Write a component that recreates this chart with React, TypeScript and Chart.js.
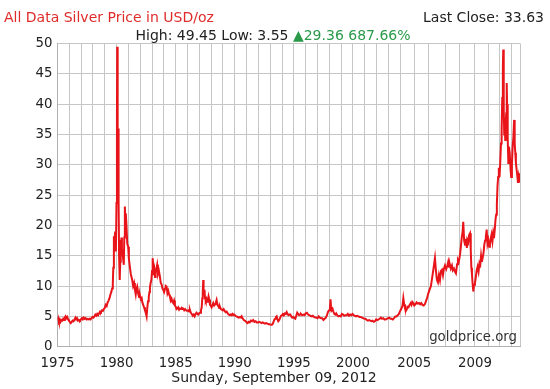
import React, { useEffect, useRef } from "react";
import { Chart, registerables } from "chart.js";

Chart.register(...registerables);

// ---- data (decimal year, USD/oz) ----
const YEARS = [
  1975.00, 1975.06, 1975.12, 1975.19, 1975.26, 1975.33, 1975.41, 1975.48, 1975.55, 1975.62, 1975.68, 1975.75, 1975.82, 1975.90, 1975.97,
  1976.04, 1976.12, 1976.20, 1976.28, 1976.36, 1976.44, 1976.52, 1976.58, 1976.66, 1976.74, 1976.82, 1976.90, 1976.98,
  1977.06, 1977.14, 1977.22, 1977.30, 1977.38, 1977.46, 1977.55, 1977.64, 1977.72, 1977.80, 1977.88, 1977.96,
  1978.04, 1978.12, 1978.20, 1978.28, 1978.36, 1978.44, 1978.52, 1978.60, 1978.68, 1978.76, 1978.84, 1978.92,
  1979.00, 1979.08, 1979.16, 1979.24, 1979.32, 1979.40, 1979.48, 1979.55, 1979.62, 1979.68, 1979.72, 1979.77, 1979.82, 1979.88, 1979.94, 1979.99,
  1980.03, 1980.05, 1980.07, 1980.09, 1980.11, 1980.14, 1980.17, 1980.21, 1980.25, 1980.28, 1980.31, 1980.33, 1980.37, 1980.41, 1980.45,
  1980.50, 1980.55, 1980.61, 1980.65, 1980.70, 1980.74, 1980.78, 1980.84, 1980.90, 1980.98,
  1981.04, 1981.12, 1981.20, 1981.26, 1981.32, 1981.40, 1981.48, 1981.55, 1981.62, 1981.68, 1981.74, 1981.82, 1981.90, 1981.97,
  1982.05, 1982.12, 1982.18, 1982.25, 1982.32, 1982.40, 1982.47, 1982.54, 1982.60, 1982.66, 1982.72, 1982.78, 1982.82, 1982.88, 1982.94,
  1983.00, 1983.05, 1983.09, 1983.14, 1983.20, 1983.25, 1983.30, 1983.36, 1983.43, 1983.50, 1983.58, 1983.66, 1983.74, 1983.82, 1983.88, 1983.94,
  1984.02, 1984.10, 1984.16, 1984.23, 1984.30, 1984.37, 1984.44, 1984.51, 1984.58, 1984.65, 1984.72, 1984.79, 1984.86, 1984.93,
  1985.00, 1985.07, 1985.13, 1985.21, 1985.29, 1985.37, 1985.45, 1985.53, 1985.63, 1985.72, 1985.80, 1985.88, 1985.96,
  1986.05, 1986.13, 1986.20, 1986.28, 1986.36, 1986.44, 1986.52, 1986.60, 1986.68, 1986.76, 1986.84, 1986.91, 1986.98,
  1987.06, 1987.14, 1987.20, 1987.25, 1987.29, 1987.33, 1987.36, 1987.40, 1987.44, 1987.48, 1987.54, 1987.60, 1987.66, 1987.72, 1987.78, 1987.84, 1987.90, 1987.96,
  1988.04, 1988.10, 1988.18, 1988.26, 1988.34, 1988.40, 1988.46, 1988.52, 1988.60, 1988.68, 1988.74, 1988.82, 1988.90, 1988.98,
  1989.06, 1989.14, 1989.22, 1989.31, 1989.40, 1989.48, 1989.56, 1989.64, 1989.72, 1989.80, 1989.87, 1989.95,
  1990.04, 1990.14, 1990.24, 1990.34, 1990.44, 1990.52, 1990.58, 1990.66, 1990.76, 1990.84, 1990.92,
  1991.00, 1991.08, 1991.16, 1991.26, 1991.36, 1991.46, 1991.56, 1991.66, 1991.76, 1991.86, 1991.96,
  1992.06, 1992.16, 1992.26, 1992.36, 1992.46, 1992.56, 1992.66, 1992.76, 1992.86, 1992.96,
  1993.06, 1993.14, 1993.22, 1993.30, 1993.36, 1993.42, 1993.48, 1993.54, 1993.60, 1993.68, 1993.76, 1993.84, 1993.92,
  1994.00, 1994.08, 1994.16, 1994.24, 1994.32, 1994.39, 1994.46, 1994.54, 1994.62, 1994.70, 1994.78, 1994.86, 1994.95,
  1995.04, 1995.12, 1995.20, 1995.28, 1995.36, 1995.44, 1995.52, 1995.60, 1995.70, 1995.80, 1995.90,
  1996.00, 1996.10, 1996.20, 1996.30, 1996.40, 1996.50, 1996.60, 1996.70, 1996.80, 1996.90,
  1997.00, 1997.10, 1997.20, 1997.30, 1997.40, 1997.50, 1997.60, 1997.70, 1997.80, 1997.90, 1997.98,
  1998.05, 1998.10, 1998.14, 1998.20, 1998.28, 1998.34, 1998.42, 1998.50, 1998.58, 1998.66, 1998.76, 1998.86, 1998.96,
  1999.06, 1999.16, 1999.26, 1999.36, 1999.46, 1999.56, 1999.66, 1999.76, 1999.86, 1999.96,
  2000.06, 2000.16, 2000.26, 2000.36, 2000.46, 2000.56, 2000.66, 2000.76, 2000.86, 2000.96,
  2001.06, 2001.16, 2001.26, 2001.36, 2001.46, 2001.56, 2001.66, 2001.76, 2001.86, 2001.96,
  2002.06, 2002.16, 2002.26, 2002.36, 2002.46, 2002.57, 2002.66, 2002.76, 2002.86, 2002.96,
  2003.06, 2003.16, 2003.26, 2003.36, 2003.46, 2003.56, 2003.66, 2003.76, 2003.86, 2003.96,
  2004.06, 2004.14, 2004.20, 2004.26, 2004.32, 2004.38, 2004.44, 2004.50, 2004.58, 2004.66, 2004.74, 2004.80, 2004.86, 2004.93,
  2005.00, 2005.08, 2005.16, 2005.24, 2005.32, 2005.40, 2005.48, 2005.56, 2005.64, 2005.72, 2005.80, 2005.88, 2005.96,
  2006.04, 2006.12, 2006.20, 2006.28, 2006.36, 2006.42, 2006.48, 2006.54, 2006.60, 2006.66, 2006.72, 2006.78, 2006.84, 2006.90, 2006.96,
  2007.04, 2007.12, 2007.18, 2007.24, 2007.30, 2007.36, 2007.44, 2007.50, 2007.58, 2007.65, 2007.72, 2007.80, 2007.86, 2007.92,
  2008.00, 2008.06, 2008.12, 2008.18, 2008.22, 2008.28, 2008.34, 2008.40, 2008.46, 2008.49, 2008.55, 2008.61, 2008.67, 2008.72, 2008.76, 2008.80, 2008.84, 2008.89, 2008.94,
  2009.00, 2009.06, 2009.13, 2009.20, 2009.27, 2009.34, 2009.40, 2009.46, 2009.52, 2009.58, 2009.64, 2009.70, 2009.76, 2009.82, 2009.88, 2009.94,
  2010.00, 2010.08, 2010.15, 2010.22, 2010.30, 2010.38, 2010.45, 2010.52, 2010.60, 2010.66, 2010.72, 2010.78, 2010.84, 2010.90, 2010.96,
  2011.02, 2011.08, 2011.14, 2011.19, 2011.24, 2011.29, 2011.32, 2011.36, 2011.40, 2011.44, 2011.48, 2011.52, 2011.56, 2011.60, 2011.63, 2011.68, 2011.73, 2011.78, 2011.84, 2011.92, 2011.96,
  2012.02, 2012.08, 2012.14, 2012.20, 2012.25, 2012.30, 2012.35, 2012.42, 2012.48, 2012.52, 2012.58, 2012.63, 2012.66, 2012.69,
];

const PRICES = [
  4.3, 4.7, 4.2, 4.5, 4.1, 4.4, 4.3, 4.6, 4.4, 4.8, 5.0, 4.7, 4.9, 4.5, 4.3,
  4.1, 3.9, 4.1, 4.3, 4.2, 4.5, 4.8, 4.5, 4.7, 4.3, 4.4, 4.3, 4.5,
  4.7, 4.5, 4.8, 4.6, 4.7, 4.5, 4.6, 4.5, 4.6, 4.5, 4.7, 4.9,
  4.8, 5.0, 5.3, 5.1, 5.4, 5.2, 5.5, 5.8, 5.7, 6.0, 5.9, 6.2,
  6.4, 6.9, 6.7, 7.3, 7.6, 8.0, 8.6, 9.0, 9.6, 10.4, 13.0, 18.2, 17.0, 19.0, 15.7, 23.7,
  38.0, 49.45, 34.0, 41.0, 30.0, 36.0, 24.0, 15.0, 12.5, 11.0, 14.0, 17.6, 15.5, 18.0, 15.0,
  16.0, 14.5, 13.5, 18.0, 23.1, 20.0, 22.0, 19.8, 17.0, 16.5,
  14.5, 13.2, 12.0, 11.5, 11.0, 10.0, 10.5, 9.4, 8.6, 9.5, 9.9, 8.8, 8.2, 8.5,
  7.8, 8.0, 7.3, 6.9, 6.5, 6.0, 5.6, 5.0, 6.5, 7.5, 8.2, 9.0, 9.8, 10.5, 11.0,
  12.5, 14.6, 13.5, 11.8, 12.6, 11.5, 12.1, 12.8, 13.5, 12.0, 12.5, 11.6, 10.5, 10.2, 9.6, 9.4,
  9.0, 9.6, 10.0, 9.9, 8.8, 9.2, 8.6, 8.3, 7.6, 7.9, 7.4, 7.2, 7.6, 6.8,
  6.6, 6.2, 6.3, 6.5, 6.1, 6.3, 6.2, 6.4, 6.3, 6.0, 6.2, 6.0, 5.9,
  6.0, 5.8, 6.1, 5.6, 5.4, 5.1, 5.3, 5.0, 5.4, 5.6, 5.4, 5.3, 5.5,
  5.6, 6.0, 6.5, 8.0, 9.0, 11.0, 9.2, 8.6, 9.4, 8.0, 7.6, 7.9, 7.4, 7.6, 8.3, 7.8, 6.9, 6.8,
  6.5, 6.8, 7.2, 6.8, 7.0, 7.3, 7.7, 7.0, 6.7, 6.4, 6.6, 6.2, 6.1, 6.0,
  6.2, 5.9, 5.7, 5.8, 5.5, 5.3, 5.2, 5.3, 5.2, 5.4, 5.2, 5.3,
  5.1, 5.0, 4.9, 4.8, 4.9, 4.8, 5.0, 4.7, 4.4, 4.3, 4.2,
  4.0, 3.9, 4.1, 4.0, 4.3, 4.2, 4.4, 4.1, 4.2, 4.0, 4.0,
  4.1, 4.0, 3.9, 4.0, 3.9, 3.8, 3.9, 3.8, 3.7, 3.7,
  3.6, 3.6, 3.8, 4.2, 4.5, 4.6, 4.9, 5.0, 4.6, 4.2, 4.4, 4.8, 5.1,
  5.2, 5.4, 5.3, 5.5, 5.4, 5.7, 5.4, 5.2, 5.3, 5.3, 5.0, 4.8, 4.9,
  4.7, 4.6, 5.1, 5.6, 5.4, 5.2, 5.3, 5.4, 5.2, 5.3, 5.2,
  5.5, 5.6, 5.3, 5.2, 5.1, 5.0, 5.1, 4.9, 4.8, 4.8,
  4.7, 5.0, 4.8, 4.7, 4.7, 4.4, 4.6, 4.8, 5.2, 5.8, 6.0,
  6.5, 7.8, 6.6, 6.0, 6.2, 5.8, 5.4, 5.3, 5.5, 5.2, 5.0, 5.1, 5.0,
  5.4, 5.3, 5.1, 5.2, 5.2, 5.4, 5.1, 5.3, 5.2, 5.4,
  5.2, 5.1, 5.0, 5.1, 5.0, 4.9, 4.9, 4.8, 4.7, 4.6,
  4.6, 4.4, 4.3, 4.4, 4.3, 4.2, 4.3, 4.1, 4.2, 4.5,
  4.4, 4.5, 4.6, 4.8, 4.6, 4.7, 4.5, 4.5, 4.6, 4.7,
  4.8, 4.6, 4.6, 4.5, 4.7, 5.0, 5.0, 5.2, 5.4, 5.9,
  6.3, 6.8, 8.0, 7.0, 6.4, 5.9, 6.1, 6.6, 6.5, 6.9, 7.2, 6.9, 7.4, 7.2,
  6.8, 7.0, 7.3, 7.1, 7.2, 7.0, 7.2, 6.9, 6.8, 7.0, 7.5, 8.1, 8.8,
  9.4, 10.0, 11.5, 13.0, 14.6, 12.5, 11.0, 10.6, 11.8, 11.0, 12.5, 12.7, 11.8, 12.9, 13.4,
  12.8, 13.4, 14.0, 13.2, 13.5, 12.9, 13.4, 12.6, 12.9, 12.4, 12.1, 13.6, 14.3, 14.0,
  15.1, 16.5, 18.0, 19.0, 20.6, 17.5, 16.8, 17.8, 16.3, 17.6, 17.2, 18.4, 18.7, 16.0, 13.0, 12.0, 10.5, 9.1, 10.2,
  10.5, 11.4, 12.6, 13.2, 12.4, 13.8, 13.5, 15.0, 14.0, 14.7, 15.4, 16.8, 17.5, 18.2, 19.3, 17.0,
  17.6, 16.5, 16.8, 17.8, 18.5, 17.4, 18.7, 17.9, 19.5, 21.0, 21.8, 23.5, 26.5, 28.0, 29.5,
  28.0, 30.5, 33.5, 35.8, 41.0, 46.0, 49.0, 39.0, 35.0, 37.5, 34.1, 37.0, 38.5, 43.5, 40.0, 34.5, 30.3, 33.0, 32.0, 29.0, 28.0,
  30.0, 33.0, 34.5, 37.4, 33.5, 32.0, 30.3, 29.0, 28.0, 27.0, 28.0, 27.2, 28.6, 27.5,
];

// ---- axis: one grid line per year; the original axis is stretched after 2002 ----
const GRID_YEARS = [
  1975, 1976, 1977, 1978, 1979, 1980, 1981, 1982, 1983, 1984, 1985, 1986, 1987, 1988, 1989,
  1990, 1991, 1992, 1993, 1994, 1995, 1996, 1997, 1998, 1999, 2000, 2001, 2002, 2003, 2004,
  2005, 2006, 2007, 2008, 2009, 2010, 2011, 2012,
];
const YEAR_SPACING = [
  1, 1, 1, 1, 1, 1, 1, 1, 1, 1, 1, 1, 1, 1, 1,
  1, 1, 1, 1, 1, 1, 1, 1, 1, 1, 1, 1, 1, 1.03, 1.15,
  1.245, 1.414, 1.21, 1.27, 1.126, 0.931, 1.05, 1.02,
];
const LABEL_YEARS = [1975, 1980, 1985, 1990, 1995, 2000, 2005, 2009];
const LAST_DATE = 2012.69;

const TITLE = "All Data Silver Price in USD/oz";
const LAST_CLOSE = "Last Close: 33.63";
const HIGH_LOW = "High: 49.45 Low: 3.55 ";
const CHANGE = "29.36 687.66%";
const DATE_TEXT = "Sunday, September 09, 2012";
const WATERMARK = "goldprice.org";

const FONT = '"DejaVu Sans", Verdana, sans-serif';
const FS = 13.3;
const HEAD_FS = 14;

function toPos(year: number): number {
  let pos = 0;
  for (let i = 0; i < GRID_YEARS.length; i++) {
    const w = YEAR_SPACING[i];
    if (year >= GRID_YEARS[i] + 1) {
      pos += w;
    } else {
      pos += (year - GRID_YEARS[i]) * w;
      break;
    }
  }
  return pos;
}

const textPlugin = {
  id: "silverTexts",
  afterDraw(chart: any) {
    const ctx = chart.ctx as CanvasRenderingContext2D;
    const W = chart.width;
    ctx.save();
    ctx.textBaseline = "alphabetic";
    ctx.font = `${HEAD_FS}px ${FONT}`;
    // title
    ctx.fillStyle = "#e02b2b";
    ctx.textAlign = "left";
    ctx.fillText(TITLE, 4, 22);
    // last close
    ctx.fillStyle = "#222";
    ctx.textAlign = "right";
    ctx.fillText(LAST_CLOSE, 544, 21.5);
    // high / low line
    const tri = "\u25B2";
    const w1 = ctx.measureText(HIGH_LOW).width;
    const w2 = ctx.measureText(tri).width;
    const w3 = ctx.measureText(CHANGE).width;
    const total = w1 + w2 + w3;
    let x = W / 2 - 2 - total / 2;
    ctx.textAlign = "left";
    ctx.fillStyle = "#222";
    ctx.fillText(HIGH_LOW, x, 39.5);
    x += w1;
    ctx.fillStyle = "#2a9a4a";
    ctx.fillText(tri, x, 39.5);
    x += w2;
    ctx.fillText(CHANGE, x, 39.5);
    // date
    ctx.fillStyle = "#222";
    ctx.textAlign = "center";
    ctx.fillText(DATE_TEXT, W / 2 - 1, 382);
    // watermark
    ctx.font = `${FS}px ${FONT}`;
    ctx.fillStyle = "#333";
    ctx.textAlign = "right";
    ctx.fillText(WATERMARK, chart.chartArea.right - 3, 341);
    ctx.restore();
  },
};

export default function App() {
  const ref = useRef<HTMLCanvasElement | null>(null);
  useEffect(() => {
    document.body.style.margin = "0";
    const canvas = ref.current;
    if (!canvas) return;
    const points = YEARS.map((yr, i) => ({ x: toPos(yr), y: PRICES[i] }));
    const gridTicks = GRID_YEARS.map((yr) => ({ value: toPos(yr) }));
    const chart = new Chart(canvas, {
      type: "line",
      data: {
        datasets: [
          {
            data: points,
            borderColor: "#e8141a",
            borderWidth: 2,
            pointRadius: 0,
            tension: 0,
            fill: false,
          },
        ],
      },
      options: {
        animation: false,
        responsive: false,
        devicePixelRatio: 1,
        layout: { padding: { top: 43.5, right: 30, bottom: 0, left: 0 } },
        plugins: { legend: { display: false }, tooltip: { enabled: false }, title: { display: false } },
        scales: {
          x: {
            type: "linear",
            min: 0,
            max: toPos(LAST_DATE),
            afterBuildTicks: (scale: any) => {
              scale.ticks = [...gridTicks.map((t) => ({ ...t })), { value: toPos(LAST_DATE) }];
            },
            afterFit: (scale: any) => {
              scale.height = 42.3;
            },
            ticks: {
              autoSkip: false,
              maxRotation: 0,
              padding: 9,
              color: "#222",
              font: { family: FONT, size: FS },
              callback: (_v: any, idx: number) => {
                const yr = GRID_YEARS[idx];
                return yr !== undefined && LABEL_YEARS.includes(yr) ? String(yr) : "";
              },
            },
            grid: { color: "#c6c6c6", lineWidth: 1, drawTicks: false },
            border: { color: "#b0b0b0" },
          },
          y: {
            min: 0,
            max: 50,
            afterFit: (scale: any) => {
              scale.width = 57.5;
            },
            ticks: {
              stepSize: 5,
              padding: 5,
              color: "#222",
              font: { family: FONT, size: FS },
            },
            grid: { color: "#c6c6c6", lineWidth: 1, drawTicks: false },
            border: { color: "#b0b0b0" },
          },
        },
      },
      plugins: [textPlugin],
    });
    return () => chart.destroy();
  }, []);
  return (
    <div style={{ width: 550, height: 389, background: "#fff" }}>
      <canvas ref={ref} width={550} height={389} style={{ display: "block" }} />
    </div>
  );
}
